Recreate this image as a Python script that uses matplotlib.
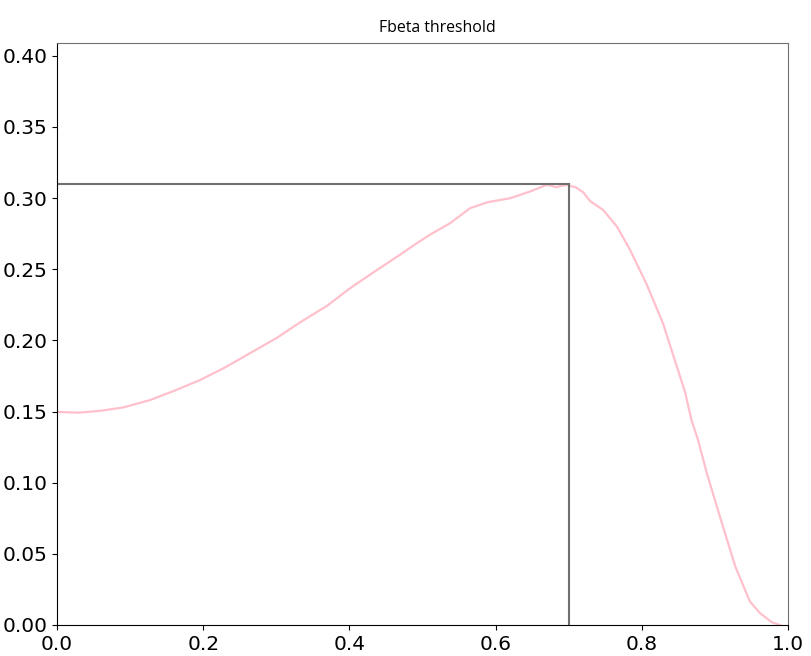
import matplotlib
matplotlib.use('Agg')
import matplotlib.pyplot as plt

# threshold / fbeta points
thresholds = [0.0, 0.03, 0.059, 0.09, 0.127, 0.16, 0.196, 0.23, 0.264, 0.30,
              0.332, 0.37, 0.401, 0.435, 0.469, 0.49, 0.510, 0.538, 0.565, 0.59,
              0.620, 0.647, 0.670, 0.683, 0.697, 0.710, 0.720, 0.729, 0.747, 0.766,
              0.784, 0.807, 0.829, 0.848, 0.859, 0.868, 0.877, 0.889, 0.907, 0.928,
              0.948, 0.962, 0.978, 0.989]
fbeta = [0.1497, 0.1492, 0.1505, 0.1528, 0.158, 0.1645, 0.1722, 0.181, 0.191, 0.2015,
         0.2125, 0.2245, 0.2367, 0.2485, 0.2601, 0.2675, 0.2742, 0.2824, 0.2929, 0.2972,
         0.2999, 0.3046, 0.3093, 0.3077, 0.3093, 0.3075, 0.304, 0.298, 0.2917, 0.280,
         0.2636, 0.239, 0.212, 0.1816, 0.164, 0.144, 0.130, 0.1066, 0.076, 0.041,
         0.0164, 0.0082, 0.0019, 0.0]

best_threshold = 0.7
best_fbeta = 0.31

fig = plt.figure(figsize=(8.11, 6.56), dpi=100)
ax = fig.add_axes([0.0703, 0.0473, 0.9013, 0.8872])

ax.plot(thresholds, fbeta, color='pink', linewidth=1.6)
ax.plot([0, best_threshold], [best_fbeta, best_fbeta], color='#707070', linewidth=1.5)
ax.plot([best_threshold, best_threshold], [0, best_fbeta], color='#707070', linewidth=1.5)

ax.set_xlim(0, 1.0)
ax.set_ylim(0, 0.409)
ax.set_yticks([0.0, 0.05, 0.10, 0.15, 0.20, 0.25, 0.30, 0.35, 0.40])
ax.tick_params(labelsize=14.5)
for side in ['top', 'right']:
    ax.spines[side].set_color('#707070')

ax.set_title('Fbeta threshold', fontsize=11.4, family='Open Sans', x=0.52, pad=8)

plt.savefig('out.png', dpi=100)
